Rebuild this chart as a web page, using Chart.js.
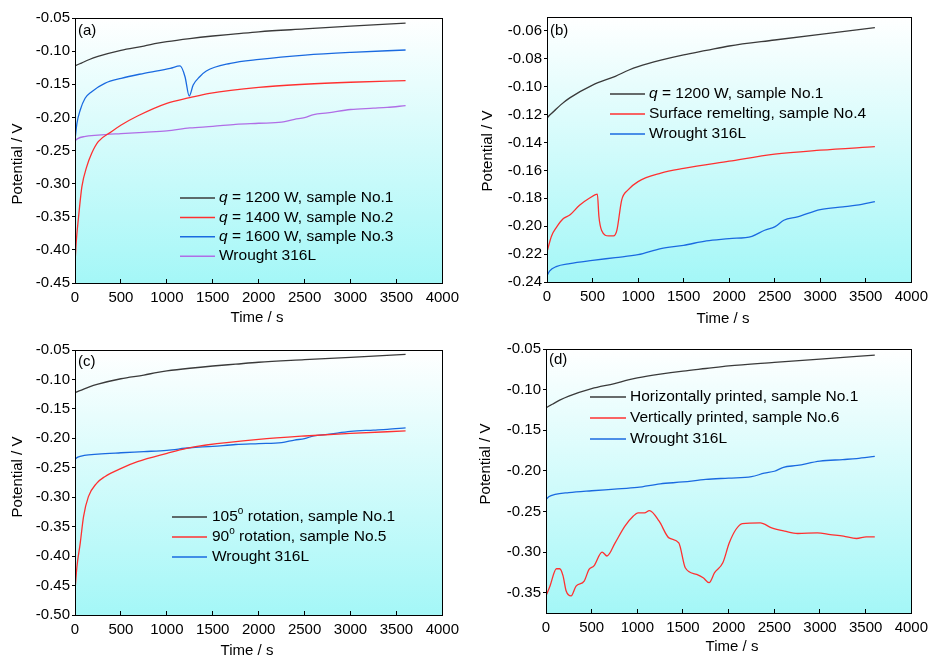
<!DOCTYPE html>
<html>
<head>
<meta charset="utf-8">
<script src="https://cdn.jsdelivr.net/npm/chart.js@4.4.1/dist/chart.umd.min.js"></script>
<style>
  html, body { margin: 0; padding: 0; background: #fff; }
  #wrap { position: relative; width: 938px; height: 656px; overflow: hidden; }
  canvas { position: absolute; }
</style>
</head>
<body>
<div id="wrap">
  <canvas id="pa" width="469" height="328" style="left:0;top:0"></canvas>
  <canvas id="pb" width="469" height="328" style="left:469px;top:0"></canvas>
  <canvas id="pc" width="469" height="328" style="left:0;top:328px"></canvas>
  <canvas id="pd" width="469" height="328" style="left:469px;top:328px"></canvas>
</div>
<script>
// time (s) and potential (V)
const tNo1 = [0, 20, 70, 150, 250, 500, 750, 900, 1000, 1250, 1500, 1750, 2000, 2500, 3000, 3600];
const vNo1 = [-0.1227, -0.121, -0.118, -0.113, -0.108, -0.0988, -0.0925, -0.088, -0.0856, -0.081, -0.0772, -0.074, -0.0708, -0.0665, -0.0624, -0.0576];

const tWrought = [0, 30, 100, 250, 500, 750, 1000, 1250, 1500, 1750, 2000, 2250, 2390, 2500, 2600, 2750, 3000, 3250, 3400, 3600];
const vWrought = [-0.2355, -0.232, -0.229, -0.2268, -0.2245, -0.2225, -0.2204, -0.216, -0.2137, -0.2105, -0.2089, -0.2072, -0.2029, -0.2005, -0.1957, -0.1933, -0.1881, -0.1861, -0.1849, -0.1823];

const tNo2 = [0, 15, 39, 75, 128, 182, 253, 396, 503, 681, 1000, 1250, 1465, 2000, 2500, 3000, 3600];
const vNo2 = [-0.420, -0.385, -0.350, -0.3046, -0.2744, -0.2542, -0.2367, -0.2216, -0.2115, -0.1979, -0.1788, -0.1703, -0.1637, -0.1546, -0.150, -0.147, -0.1446];

const tNo3 = [0, 21, 57, 110, 182, 324, 503, 752, 1037, 1144, 1198, 1244, 1287, 1358, 1430, 1693, 2007, 2506, 3006, 3600];
const vNo3 = [-0.2341, -0.209, -0.1889, -0.1712, -0.1612, -0.1486, -0.141, -0.1335, -0.1259, -0.1224, -0.1386, -0.1677, -0.1511, -0.1386, -0.130, -0.1184, -0.1124, -0.1059, -0.1018, -0.0983];

const tNo4 = [0, 50, 107, 180, 250, 357, 464, 553, 570, 600, 678, 730, 767, 820, 890, 1000, 1250, 1500, 2000, 2500, 3000, 3600];
const vNo4 = [-0.2184, -0.207, -0.2005, -0.1945, -0.192, -0.185, -0.180, -0.177, -0.193, -0.203, -0.207, -0.207, -0.203, -0.1813, -0.174, -0.168, -0.162, -0.1586, -0.1534, -0.1483, -0.1455, -0.143];

const tNo5 = [0, 21, 57, 93, 146, 235, 324, 503, 681, 1002, 1216, 1430, 2000, 2500, 3000, 3600];
const vNo5 = [-0.4575, -0.418, -0.378, -0.333, -0.299, -0.2764, -0.2651, -0.2509, -0.2396, -0.2254, -0.2169, -0.2113, -0.2017, -0.196, -0.1915, -0.1875];

const tNo6 = [0, 43, 114, 150, 186, 221, 275, 329, 418, 471, 525, 614, 668, 757, 864, 954, 1007, 1079, 1132, 1239,
  1346, 1454, 1525, 1650, 1721, 1786, 1846, 1936, 2007, 2079, 2150, 2346, 2471, 2614, 2757, 2971, 3114, 3257, 3400, 3507, 3600];
const vNo6 = [-0.354, -0.342, -0.3205, -0.3205, -0.329, -0.348, -0.354, -0.342, -0.3357, -0.3213, -0.317, -0.300, -0.3048, -0.2886, -0.268, -0.2559, -0.2518, -0.2518, -0.249, -0.262,
  -0.2825, -0.2886, -0.3193, -0.3275, -0.3316, -0.3377, -0.3254, -0.3132, -0.2886, -0.2722, -0.2649, -0.264, -0.2702, -0.2743, -0.2771, -0.2763, -0.2784, -0.2804, -0.2833, -0.2812, -0.2812];

const BLACK = '#3a3a3a', RED = '#ff3030', BLUE = '#1a6ae0', PURPLE = '#b06ee6';
const FONT = '"Liberation Sans", Arial, sans-serif';
const W = 469, H = 328;

function pts(t, v) {
  return t.map((x, i) => ({ x: x, y: v[i] }));
}

function series(label, color, t, v) {
  return {
    label: label, data: pts(t, v), borderColor: color, backgroundColor: color,
    borderWidth: 1.3, pointRadius: 0, cubicInterpolationMode: 'monotone', fill: false
  };
}

// draws "*q*" as italic and "^o^" as superscript
function drawRich(ctx, text, x, y, size) {
  const parts = text.split(/(\*[^*]+\*|\^[^^]+\^)/).filter(s => s);
  for (const p of parts) {
    let s = p, font = size + 'px ' + FONT, dy = 0;
    if (p[0] === '*') { s = p.slice(1, -1); font = 'italic ' + font; }
    else if (p[0] === '^') { s = p.slice(1, -1); font = Math.round(size * 0.62) + 'px ' + FONT; dy = -size * 0.38; }
    ctx.font = font;
    ctx.fillText(s, x, y + dy);
    x += ctx.measureText(s).width;
  }
}

const panelDeco = {
  id: 'panelDeco',
  beforeDraw(chart) {
    const { ctx, chartArea: a } = chart;
    const g = ctx.createLinearGradient(0, a.top, 0, a.bottom);
    g.addColorStop(0, '#ffffff');
    g.addColorStop(1, '#a4f7f7');
    ctx.save();
    ctx.fillStyle = g;
    ctx.fillRect(a.left, a.top, a.right - a.left, a.bottom - a.top);
    ctx.restore();
  },
  afterDraw(chart, args, o) {
    const { ctx, chartArea: a } = chart;
    ctx.save();
    // frame
    ctx.strokeStyle = '#000';
    ctx.lineWidth = 1;
    ctx.strokeRect(Math.round(a.left) + 0.5, Math.round(a.top) + 0.5,
      Math.round(a.right - a.left), Math.round(a.bottom - a.top));
    ctx.fillStyle = '#000';
    ctx.textBaseline = 'middle';
    // panel tag
    ctx.font = '15px ' + FONT;
    ctx.textAlign = 'left';
    ctx.fillText(o.tag, o.tagX, o.tagY);
    // axis titles
    ctx.textAlign = 'center';
    ctx.fillText('Time / s', o.xTitle[0], o.xTitle[1]);
    ctx.save();
    ctx.translate(o.yTitle[0], o.yTitle[1]);
    ctx.rotate(-Math.PI / 2);
    ctx.fillText('Potential / V', 0, 0);
    ctx.restore();
    // legend
    ctx.textAlign = 'left';
    const L = o.legend;
    chart.data.datasets.forEach((ds, i) => {
      const y = L.y0 + i * L.dy;
      ctx.strokeStyle = ds.borderColor;
      ctx.lineWidth = 1.5;
      ctx.beginPath();
      ctx.moveTo(L.x1, y);
      ctx.lineTo(L.x2, y);
      ctx.stroke();
      drawRich(ctx, ds.label, L.tx, y, 15.5);
    });
    ctx.restore();
  }
};

function makeChart(id, datasets, ymin, ymax, ystep, area, deco) {
  const tickFont = { family: FONT, size: 15 };
  new Chart(document.getElementById(id), {
    type: 'line',
    data: { datasets: datasets },
    options: {
      responsive: false,
      animation: false,
      layout: { padding: { left: 0, top: area.top, right: W - area.right, bottom: 0 } },
      plugins: { legend: { display: false }, tooltip: { enabled: false }, panelDeco: deco },
      scales: {
        x: {
          type: 'linear', min: 0, max: 4000,
          ticks: { stepSize: 500, font: tickFont, color: '#000', padding: 10, maxRotation: 0, autoSkip: false,
            callback: v => String(v) },
          grid: { drawOnChartArea: false, tickLength: -4, color: '#000' },
          border: { display: false },
          afterFit: s => { s.height = H - area.bottom; }
        },
        y: {
          type: 'linear', min: ymin, max: ymax,
          ticks: { font: tickFont, color: '#000', padding: 2, autoSkip: false,
            callback: v => v.toFixed(2) },
          grid: { drawOnChartArea: false, tickLength: 3, color: '#000' },
          border: { display: false },
          afterBuildTicks: s => {
            // labelled ticks only on whole multiples of the step
            const ticks = [];
            for (let k = Math.ceil(ymin / ystep - 1e-6); k <= Math.floor(ymax / ystep + 1e-6); k++) {
              ticks.push({ value: +(k * ystep).toFixed(4) });
            }
            s.ticks = ticks;
          },
          afterFit: s => { s.width = area.left; }
        }
      }
    },
    plugins: [panelDeco]
  });
}

makeChart('pa', [
  series('*q* = 1200 W, sample No.1', BLACK, tNo1, vNo1),
  series('*q* = 1400 W, sample No.2', RED, tNo2, vNo2),
  series('*q* = 1600 W, sample No.3', BLUE, tNo3, vNo3),
  series('Wrought 316L', PURPLE, tWrought, vWrought)
], -0.45, -0.05, 0.05, { left: 75, top: 18, right: 449, bottom: 283 }, {
  tag: '(a)', tagX: 78, tagY: 31, xTitle: [257, 318], yTitle: [18, 164],
  legend: { x1: 180, x2: 215, tx: 219, y0: 198, dy: 19.4 }
});

makeChart('pb', [
  series('*q* = 1200 W, sample No.1', BLACK, tNo1, vNo1),
  series('Surface remelting, sample No.4', RED, tNo4, vNo4),
  series('Wrought 316L', BLUE, tWrought, vWrought)
], -0.24, -0.05, 0.02, { left: 78, top: 17, right: 452, bottom: 282 }, {
  tag: '(b)', tagX: 81, tagY: 31, xTitle: [254, 319], yTitle: [19, 151],
  legend: { x1: 141, x2: 176, tx: 180, y0: 94, dy: 20 }
});

makeChart('pc', [
  series('105^o^ rotation, sample No.1', BLACK, tNo1, vNo1),
  series('90^o^ rotation, sample No.5', RED, tNo5, vNo5),
  series('Wrought 316L', BLUE, tWrought, vWrought)
], -0.50, -0.05, 0.05, { left: 75, top: 22, right: 449, bottom: 287 }, {
  tag: '(c)', tagX: 78, tagY: 34, xTitle: [247, 323], yTitle: [18, 149],
  legend: { x1: 172, x2: 207, tx: 212, y0: 189, dy: 20 }
});

makeChart('pd', [
  series('Horizontally printed, sample No.1', BLACK, tNo1, vNo1),
  series('Vertically printed, sample No.6', RED, tNo6, vNo6),
  series('Wrought 316L', BLUE, tWrought, vWrought)
], -0.375, -0.05, 0.05, { left: 77, top: 21, right: 450, bottom: 285 }, {
  tag: '(d)', tagX: 80, tagY: 32, xTitle: [263, 319], yTitle: [17, 136],
  legend: { x1: 121, x2: 157, tx: 161, y0: 69, dy: 21 }
});
</script>
</body>
</html>
